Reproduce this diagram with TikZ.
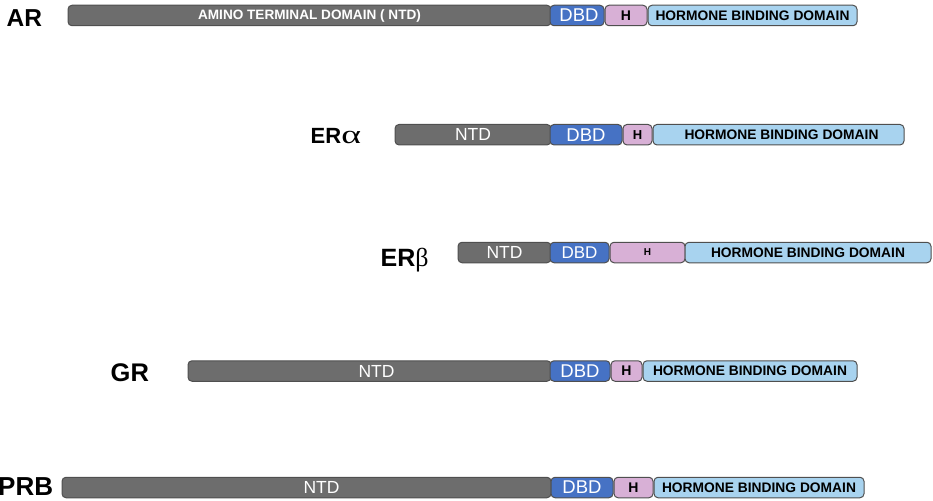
\documentclass[tikz,border=0pt]{standalone}
\usepackage{fontspec}
\setmainfont{Liberation Sans}
\newfontfamily\grk{Liberation Serif}
\definecolor{ntdc}{HTML}{6D6D6D}
\definecolor{dbdc}{HTML}{4672C4}
\definecolor{hc}{HTML}{D8B0D6}
\definecolor{hbdc}{HTML}{A8D3EF}
\definecolor{bordc}{HTML}{4F4F4F}
\begin{document}
\begin{tikzpicture}[x=1pt,y=-1pt,
  seg/.style={draw=bordc, line width=1pt, rounded corners=4pt, minimum height=20.5pt,
    inner sep=0pt, outer sep=0pt, anchor=west},
  ntd/.style={seg, fill=ntdc, text=white, font=\fontsize{17.5}{17.5}\selectfont},
  dbd/.style={seg, fill=dbdc, text=white, font=\fontsize{18.5}{18.5}\selectfont},
  hseg/.style={seg, fill=hc, text=black, font=\fontsize{14}{14}\selectfont\bfseries},
  hbd/.style={seg, fill=hbdc, text=black, font=\fontsize{13.8}{13.8}\selectfont\bfseries},
  lab/.style={anchor=base west, inner sep=0pt, font=\bfseries}]
\useasboundingbox (0,0) rectangle (933,500);

% AR
\node[lab, font=\fontsize{24.5}{24.5}\selectfont\bfseries] (arL) at (6.5,26.5) {AR};
\node[ntd, minimum width=483, font=\fontsize{13.6}{13.6}\selectfont\bfseries] (arN) at (68,15.5) {AMINO TERMINAL DOMAIN ( NTD)};
\node[dbd, minimum width=54] (arD) at (550,15.5) {\hspace{4pt}DBD};
\node[hseg, minimum width=42] (arH) at (605,15.5) {H};
\node[hbd, minimum width=209] (arB) at (648,15.5) {HORMONE BINDING DOMAIN};

% ER alpha
\node[lab, font=\fontsize{22}{22}\selectfont\bfseries] (eraL) at (310.5,143) {ER{\grk\mdseries\fontsize{26}{26}\selectfont\scalebox{1.45}[1]{α}}};
\node[ntd, minimum width=156] (eraN) at (395,134.7) {NTD};
\node[dbd, minimum width=72] (eraD) at (550,134.7) {DBD};
\node[hseg, minimum width=29, font=\fontsize{13}{13}\selectfont\bfseries] (eraH) at (623,134.7) {H};
\node[hbd, minimum width=251] (eraB) at (653,134.7) {\hspace{6pt}HORMONE BINDING DOMAIN};

% ER beta
\node[lab, font=\fontsize{25}{25}\selectfont\bfseries] (erbL) at (380.5,266.5) {ER{\grk\mdseries\fontsize{26}{26}\selectfont β}};
\node[ntd, minimum width=93] (erbN) at (458,252.5) {NTD};
\node[dbd, minimum width=59, font=\fontsize{17}{17}\selectfont] (erbD) at (550,252.5) {DBD};
\node[hseg, minimum width=75, font=\fontsize{10}{10}\selectfont\bfseries] (erbH) at (610,252.5) {H};
\node[hbd, minimum width=246] (erbB) at (685,252.5) {HORMONE BINDING DOMAIN};

% GR
\node[lab, font=\fontsize{25.5}{25.5}\selectfont\bfseries] (grL) at (110.5,381.5) {GR};
\node[ntd, minimum width=363] (grN) at (188,371) {\hspace{14pt}NTD};
\node[dbd, minimum width=60] (grD) at (550,371) {DBD};
\node[hseg, minimum width=31] (grH) at (611,371) {H};
\node[hbd, minimum width=214] (grB) at (643,371) {HORMONE BINDING DOMAIN};

% PRB
\node[lab, font=\fontsize{26}{26}\selectfont\bfseries] (prL) at (-2,495.5) {PRB};
\node[ntd, minimum width=489] (prN) at (62,487.5) {\hspace{30pt}NTD};
\node[dbd, minimum width=62] (prD) at (551,487.5) {DBD};
\node[hseg, minimum width=39] (prH) at (614,487.5) {H};
\node[hbd, minimum width=210] (prB) at (654,487.5) {HORMONE BINDING DOMAIN};
\end{tikzpicture}
\end{document}
